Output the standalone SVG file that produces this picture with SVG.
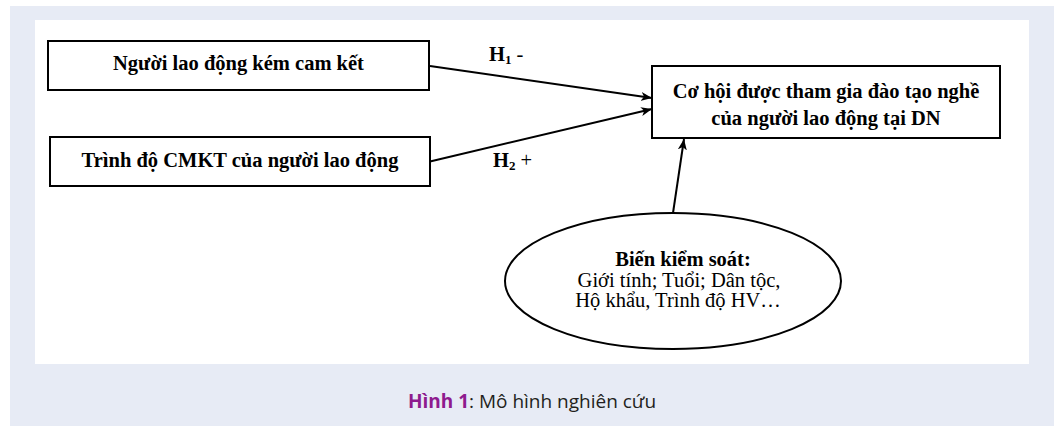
<svg xmlns="http://www.w3.org/2000/svg" width="1058" height="426" viewBox="0 0 1058 426">
  <style>
    .node rect, .node ellipse { fill: #ffffff; stroke: #000000; stroke-width: 2; }
    .t { font-family: "Liberation Serif", "Times New Roman", serif; font-size: 20.5px; fill: #000000; }
    .b { font-weight: bold; }
    .conn line { stroke: #000000; stroke-width: 2; marker-end: url(#arrow); }
    .cap { font-family: "Open Sans", "Noto Sans", sans-serif; font-size: 19px; fill: #231f20; }
    .capb { font-weight: bold; fill: #8e1b8e; }
  </style>
  <defs>
    <marker id="arrow" markerUnits="userSpaceOnUse" markerWidth="12" markerHeight="10" refX="11" refY="5" orient="auto" viewBox="0 0 12 10">
      <path d="M0,0.5 L11,5 L0,9.5 L3,5 Z" fill="#000000"/>
    </marker>
  </defs>

  <g id="background">
    <rect x="10" y="6" width="1044" height="420" fill="#e7ebf5"/>
    <rect x="35" y="20" width="994" height="344" fill="#ffffff"/>
  </g>

  <g id="connectors" class="conn">
    <line x1="430" y1="66" x2="652" y2="98"/>
    <line x1="430" y1="161.5" x2="652" y2="109"/>
    <line x1="673" y1="213" x2="684" y2="139"/>
  </g>

  <g id="labels">
    <text class="t b" x="489" y="61">H<tspan font-size="13" dy="3">1</tspan><tspan dy="-3" font-weight="normal"> -</tspan></text>
    <text class="t b" x="493" y="167">H<tspan font-size="13" dy="3">2</tspan><tspan dy="-3" font-weight="normal"> +</tspan></text>
  </g>

  <g id="node-cam-ket" class="node">
    <rect x="48" y="41" width="381" height="49"/>
    <text class="t b" x="238.5" y="69.5" text-anchor="middle">Người lao động kém cam kết</text>
  </g>

  <g id="node-trinh-do" class="node">
    <rect x="50" y="137" width="380" height="49"/>
    <text class="t b" x="240" y="166.5" text-anchor="middle">Trình độ CMKT của người lao động</text>
  </g>

  <g id="node-co-hoi" class="node">
    <rect x="652" y="66" width="348" height="72"/>
    <text class="t b" x="826" y="98" text-anchor="middle">Cơ hội được tham gia đào tạo nghề</text>
    <text class="t b" x="826" y="125" text-anchor="middle">của người lao động tại DN</text>
  </g>

  <g id="node-bien-kiem-soat" class="node">
    <ellipse cx="673" cy="281" rx="168" ry="68"/>
    <text class="t b" x="683" y="266" text-anchor="middle">Biến kiểm soát:</text>
    <text class="t" x="679" y="287" text-anchor="middle">Giới tính; Tuổi; Dân tộc,</text>
    <text class="t" x="678" y="307" text-anchor="middle">Hộ khẩu, Trình độ HV…</text>
  </g>

  <g id="caption">
    <text class="cap" x="532" y="408" text-anchor="middle"><tspan class="capb">Hình 1</tspan>: Mô hình nghiên cứu</text>
  </g>
</svg>
